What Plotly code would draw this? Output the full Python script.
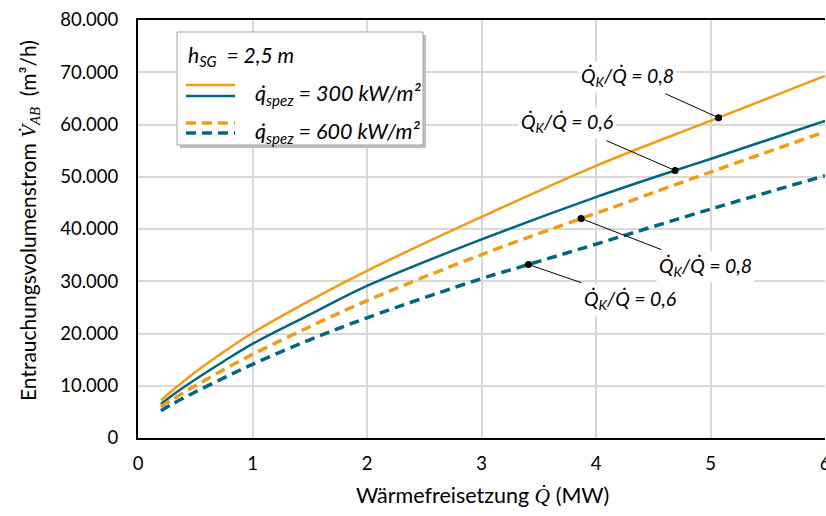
import plotly.graph_objects as go

# ---------------- data ----------------
x_300_08 = [0.2, 0.3, 0.5, 0.75, 1.0, 1.5, 2.0, 3.0, 4.0, 5.07, 6.0]
y_300_08 = [7200, 9100, 12600, 16500, 20100, 26300, 32000, 42300, 52100, 61300, 69300]

x_300_06 = [0.2, 0.3, 0.5, 0.75, 1.0, 1.5, 2.0, 3.0, 4.0, 4.69, 5.0, 6.0]
y_300_06 = [6500, 8200, 11200, 14700, 18000, 23600, 29100, 38000, 46100, 51200, 53400, 60700]

x_600_08 = [0.2, 0.3, 0.5, 0.75, 1.0, 1.5, 2.0, 3.0, 3.87, 4.0, 5.0, 6.0]
y_600_08 = [6000, 7400, 10000, 13100, 16000, 21300, 26300, 35100, 42000, 43000, 50900, 58600]

x_600_06 = [0.2, 0.3, 0.5, 0.75, 1.0, 1.5, 2.0, 3.0, 3.41, 4.0, 5.0, 6.0]
y_600_06 = [5200, 6500, 8800, 11500, 14100, 18800, 23000, 30500, 33200, 37100, 43800, 50200]

# labelled points (dot positions on the curves)
mark_x = [5.07, 4.69, 3.87, 3.41]
mark_y = [61300, 51200, 42000, 33200]
mark_labels = ["0,8", "0,6", "0,8", "0,6"]

x_ticks = [0, 1, 2, 3, 4, 5, 6]
y_ticks = [0, 10000, 20000, 30000, 40000, 50000, 60000, 70000, 80000]

ORANGE = "#F39C12"
TEAL = "#00677F"
FONT = "Lato"

W, H = 826, 516
L, R, T, B = 138, 1, 20, 78
PW, PH = W - L - R, H - T - B


def px(xp):
    return (xp - L) / PW


def py(yp):
    return (H - B - yp) / PH


fig = go.Figure()
dash = "10px,6px"
fig.add_trace(go.Scatter(x=x_300_08, y=y_300_08, mode="lines", line=dict(color=ORANGE, width=2.5, shape="spline"), showlegend=False))
fig.add_trace(go.Scatter(x=x_300_06, y=y_300_06, mode="lines", line=dict(color=TEAL, width=2.5, shape="spline"), showlegend=False))
fig.add_trace(go.Scatter(x=x_600_08, y=y_600_08, mode="lines", line=dict(color=ORANGE, width=3.5, dash=dash, shape="spline"), showlegend=False))
fig.add_trace(go.Scatter(x=x_600_06, y=y_600_06, mode="lines", line=dict(color=TEAL, width=3.5, dash=dash, shape="spline"), showlegend=False))
fig.add_trace(go.Scatter(x=mark_x, y=mark_y, mode="markers", marker=dict(color="black", size=7), showlegend=False))

# annotation offsets (pixels from dot to label centre)
offs = [(-91, -41), (-108, -47), (124, 48), (102, 35)]
annotations = []
for xm, ym, lab, (ax, ay) in zip(mark_x, mark_y, mark_labels, offs):
    annotations.append(dict(
        x=xm, y=ym, xref="x", yref="y", ax=ax, ay=ay, axref="pixel", ayref="pixel",
        text="<i>Q\u0307<sub>K</sub>/Q\u0307 = " + lab + "</i>",
        showarrow=True, arrowhead=0, arrowwidth=1, arrowcolor="black",
        bgcolor="white", borderpad=2, startstandoff=4,
        font=dict(family=FONT, size=19.5, color="black"),
    ))

# legend (custom box)
shapes = []
shapes.append(dict(type="rect", xref="paper", yref="paper", x0=px(180), x1=px(426), y0=py(148), y1=py(35),
                   fillcolor="#BFBFBF", line=dict(width=0), layer="above"))
shapes.append(dict(type="rect", xref="paper", yref="paper", x0=px(177), x1=px(423), y0=py(145), y1=py(32),
                   fillcolor="white", line=dict(color="#A6A6A6", width=1), layer="above"))
for yy, col, d, w in [(85, ORANGE, "solid", 2.5), (96, TEAL, "solid", 2.5), (123, ORANGE, dash, 3.5), (133, TEAL, dash, 3.5)]:
    shapes.append(dict(type="line", xref="paper", yref="paper", x0=px(186), x1=px(235), y0=py(yy), y1=py(yy),
                       line=dict(color=col, width=w, dash=d), layer="above"))

annotations.append(dict(x=px(186), y=py(56), xref="paper", yref="paper", xanchor="left", yanchor="middle",
                        text="<i>h<sub>SG</sub>  = 2,5 m</i>", showarrow=False,
                        font=dict(family=FONT, size=21, color="black")))
annotations.append(dict(x=px(253), y=py(94), xref="paper", yref="paper", xanchor="left", yanchor="middle",
                        text="<i>q\u0307<sub>spez</sub> = 300 kW/m²</i>", showarrow=False,
                        font=dict(family=FONT, size=21.5, color="black")))
annotations.append(dict(x=px(253), y=py(132), xref="paper", yref="paper", xanchor="left", yanchor="middle",
                        text="<i>q\u0307<sub>spez</sub> = 600 kW/m²</i>", showarrow=False,
                        font=dict(family=FONT, size=21.5, color="black")))

# axis titles
annotations.append(dict(x=px(482), y=py(495), xref="paper", yref="paper", xanchor="center", yanchor="middle",
                        text="Wärmefreisetzung <span style=\"font-family:'Liberation Serif'\"><i>Q\u0307</i></span> (MW)",
                        showarrow=False, font=dict(family=FONT, size=21.5, color="black")))
annotations.append(dict(x=px(29), y=py(221), xref="paper", yref="paper", xanchor="center", yanchor="middle",
                        textangle=-90,
                        text="Entrauchungsvolumenstrom <span style=\"font-family:'Liberation Serif'\"><i>V\u0307<sub>AB</sub></i></span>  (m³/h)",
                        showarrow=False, font=dict(family=FONT, size=21, color="black")))

fig.update_layout(
    width=W, height=H, margin=dict(l=L, r=R, t=T, b=B, autoexpand=False),
    paper_bgcolor="white", plot_bgcolor="white",
    separators=",.",
    font=dict(family=FONT, size=18.5, color="black"),
    shapes=shapes, annotations=annotations,
    xaxis=dict(range=[0, 6], tickvals=x_ticks, showgrid=True, gridcolor="#D9D9D9", gridwidth=1.5,
               showline=True, linecolor="black", linewidth=2, mirror=True, zeroline=False,
               ticks="", ticklabelstandoff=8, ticklabeloverflow="allow", automargin=False),
    yaxis=dict(range=[0, 80000], tickvals=y_ticks, tickformat=",d", showgrid=True, gridcolor="#D9D9D9", gridwidth=1.5,
               showline=True, linecolor="black", linewidth=2, zeroline=False,
               ticks="", ticklabelstandoff=14, automargin=False),
)

fig.write_html("out.html")
